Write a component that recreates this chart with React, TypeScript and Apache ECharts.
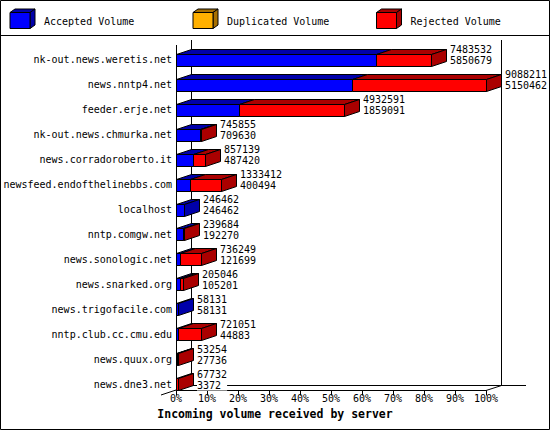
import { useEffect, useRef } from 'react';
import * as echarts from 'echarts';

const servers = [
  'nk-out.news.weretis.net',
  'news.nntp4.net',
  'feeder.erje.net',
  'nk-out.news.chmurka.net',
  'news.corradoroberto.it',
  'newsfeed.endofthelinebbs.com',
  'localhost',
  'nntp.comgw.net',
  'news.sonologic.net',
  'news.snarked.org',
  'news.trigofacile.com',
  'nntp.club.cc.cmu.edu',
  'news.quux.org',
  'news.dne3.net',
];
const totalVolume = [7483532, 9088211, 4932591, 745855, 857139, 1333412, 246462, 239684, 736249, 205046, 58131, 721051, 53254, 67732];
const acceptedVolume = [5850679, 5150462, 1859091, 709630, 487420, 400494, 246462, 192270, 121699, 105201, 58131, 44883, 27736, 3372];
const duplicatedVolume = [0, 0, 0, 0, 0, 0, 0, 0, 0, 0, 0, 0, 0, 0];
const percentTicks = [0, 10, 20, 30, 40, 50, 60, 70, 80, 90, 100];

const FONT = 'DejaVu Sans Mono';
const DX = 15; // profondeur 3D
const DY = 5;
const HALF = 6;

const COLORS = {
  accepted: ['#0000ff', '#0000aa'],
  duplicated: ['#ffb000', '#a87000'],
  rejected: ['#ff0000', '#aa0000'],
};

const maxTotal = Math.max(...totalVolume);
const pct = (v: number) => (v / maxTotal) * 100;

// segments : [index, début %, fin %, dernier segment ?]
const acceptedData = servers.map((_, i) => {
  const end = pct(acceptedVolume[i]);
  return [i, 0, end, acceptedVolume[i] === totalVolume[i] ? 1 : 0];
});
const duplicatedData = servers.map((_, i) => {
  const start = pct(acceptedVolume[i]);
  const end = pct(acceptedVolume[i] + duplicatedVolume[i]);
  return [i, start, end, 0];
});
const rejectedData = servers.map((_, i) => {
  const start = pct(acceptedVolume[i] + duplicatedVolume[i]);
  const end = pct(totalVolume[i]);
  return [i, start, end, end > start ? 1 : 0];
});
const labelData = servers.map((_, i) => [i, pct(totalVolume[i]), totalVolume[i], acceptedVolume[i]]);

const segmentRenderer = (front: string, dark: string) => (_params: any, api: any) => {
  const idx = api.value(0);
  const start = api.value(1);
  const end = api.value(2);
  const last = api.value(3) === 1;
  if (end <= start && !last) return null;
  const p0 = api.coord([start, idx]);
  const p1 = api.coord([end, idx]);
  const yt = Math.round(p0[1] - HALF) + 0.5;
  const yb = Math.round(p0[1] + HALF) + 0.5;
  const x0 = Math.round(p0[0]) + 0.5;
  const x1 = Math.round(p1[0]) + 0.5;
  const children: any[] = [];
  if (x1 > x0) {
    children.push({
      type: 'rect',
      shape: { x: x0, y: yt, width: x1 - x0, height: yb - yt },
      style: { fill: front, stroke: '#000', lineWidth: 1 },
    });
    children.push({
      type: 'polygon',
      shape: { points: [[x0, yt], [x0 + DX, yt - DY], [x1 + DX, yt - DY], [x1, yt]] },
      style: { fill: dark, stroke: '#000', lineWidth: 1 },
    });
  }
  if (last) {
    children.push({
      type: 'polygon',
      shape: { points: [[x1, yt], [x1 + DX, yt - DY], [x1 + DX, yb - DY], [x1, yb]] },
      style: { fill: dark, stroke: '#000', lineWidth: 1 },
    });
  }
  return { type: 'group', children };
};

const legendBox = (x: number, front: string, dark: string, label: string) => ({
  type: 'group',
  z: 10,
  children: [
    {
      type: 'polygon',
      shape: { points: [[x, 12.5], [x + 5, 9], [x + 25, 9], [x + 20, 12.5]] },
      style: { fill: dark, stroke: '#000', lineWidth: 1 },
    },
    {
      type: 'polygon',
      shape: { points: [[x + 20, 12.5], [x + 25, 9], [x + 25, 25], [x + 20, 28.5]] },
      style: { fill: dark, stroke: '#000', lineWidth: 1 },
    },
    {
      type: 'rect',
      shape: { x, y: 12.5, width: 20, height: 16 },
      style: { fill: front, stroke: '#000', lineWidth: 1 },
    },
    {
      type: 'text',
      x: x + 34,
      y: 21,
      style: { text: label, font: `10px "${FONT}"`, fill: '#000', verticalAlign: 'middle' },
    },
  ],
});

const line = (x1: number, y1: number, x2: number, y2: number) => ({
  type: 'line',
  z: 0,
  shape: { x1, y1, x2, y2 },
  style: { stroke: '#000', lineWidth: 1 },
});

const App = () => {
  const chartRef = useRef<HTMLDivElement>(null);

  useEffect(() => {
    if (!chartRef.current) return;
    const chart = echarts.init(chartRef.current, null, { renderer: 'svg' });

    chart.setOption({
      animation: false,
      backgroundColor: '#fff',
      title: {
        text: 'Incoming volume received by server',
        left: 'center',
        top: 408,
        padding: 0,
        textStyle: { fontFamily: FONT, fontWeight: 'bold', fontSize: 11.5, color: '#000' },
      },
      grid: { left: 176, right: 64, top: 47.5, bottom: 33.5 },
      xAxis: {
        type: 'value',
        min: percentTicks[0],
        max: percentTicks[percentTicks.length - 1],
        interval: 10,
        offset: -6,
        axisLine: { show: true, lineStyle: { color: '#000', width: 1 } },
        axisTick: { show: true, length: 5, lineStyle: { color: '#000' } },
        axisLabel: { color: '#000', fontFamily: FONT, fontSize: 10, margin: 3, formatter: '{value}%' },
        splitLine: { show: false },
      },
      yAxis: {
        type: 'category',
        data: servers,
        inverse: true,
        axisLine: { show: false },
        axisTick: { show: false },
        axisLabel: { color: '#000', fontFamily: FONT, fontSize: 10, margin: 4 },
      },
      series: [
        {
          name: 'Accepted Volume',
          type: 'custom',
          renderItem: segmentRenderer(COLORS.accepted[0], COLORS.accepted[1]),
          encode: { x: [1, 2], y: 0 },
          data: acceptedData,
          z: 2,
        },
        {
          name: 'Duplicated Volume',
          type: 'custom',
          renderItem: segmentRenderer(COLORS.duplicated[0], COLORS.duplicated[1]),
          encode: { x: [1, 2], y: 0 },
          data: duplicatedData,
          z: 2,
        },
        {
          name: 'Rejected Volume',
          type: 'custom',
          renderItem: segmentRenderer(COLORS.rejected[0], COLORS.rejected[1]),
          encode: { x: [1, 2], y: 0 },
          data: rejectedData,
          z: 2,
        },
        {
          name: 'labels',
          type: 'custom',
          z: 3,
          renderItem: (_params: any, api: any) => {
            const idx = api.value(0);
            const p = api.coord([api.value(1), idx]);
            return {
              type: 'text',
              x: Math.round(p[0]) + DX + 4,
              y: p[1] - 4.5,
              style: {
                text: `${api.value(2)}\n${api.value(3)}`,
                font: `10px "${FONT}"`,
                fill: '#000',
                lineHeight: 11,
                verticalAlign: 'middle',
                backgroundColor: '#fff',
              },
            };
          },
          encode: { x: 1, y: 0 },
          data: labelData,
        },
      ],
      graphic: [
        {
          type: 'rect',
          z: 0,
          shape: { x: 0.5, y: 0.5, width: 549, height: 429 },
          style: { fill: 'none', stroke: '#000', lineWidth: 1 },
        },
        line(0, 35.5, 550, 35.5),
        line(176.5, 45, 176.5, 390),
        line(191.5, 40, 191.5, 385),
        line(501.5, 40, 501.5, 385.5),
        line(191, 385.5, 526, 385.5),
        line(161, 395, 191, 385),
        line(486, 390.5, 501.5, 385.5),
        legendBox(10, COLORS.accepted[0], COLORS.accepted[1], 'Accepted Volume'),
        legendBox(193, COLORS.duplicated[0], COLORS.duplicated[1], 'Duplicated Volume'),
        legendBox(376.5, COLORS.rejected[0], COLORS.rejected[1], 'Rejected Volume'),
      ],
    });

    return () => {
      chart.dispose();
    };
  }, []);

  return (
    <div
      ref={chartRef}
      style={{ position: 'absolute', left: 0, top: 0, width: 550, height: 430 }}
    />
  );
};

export default App;
